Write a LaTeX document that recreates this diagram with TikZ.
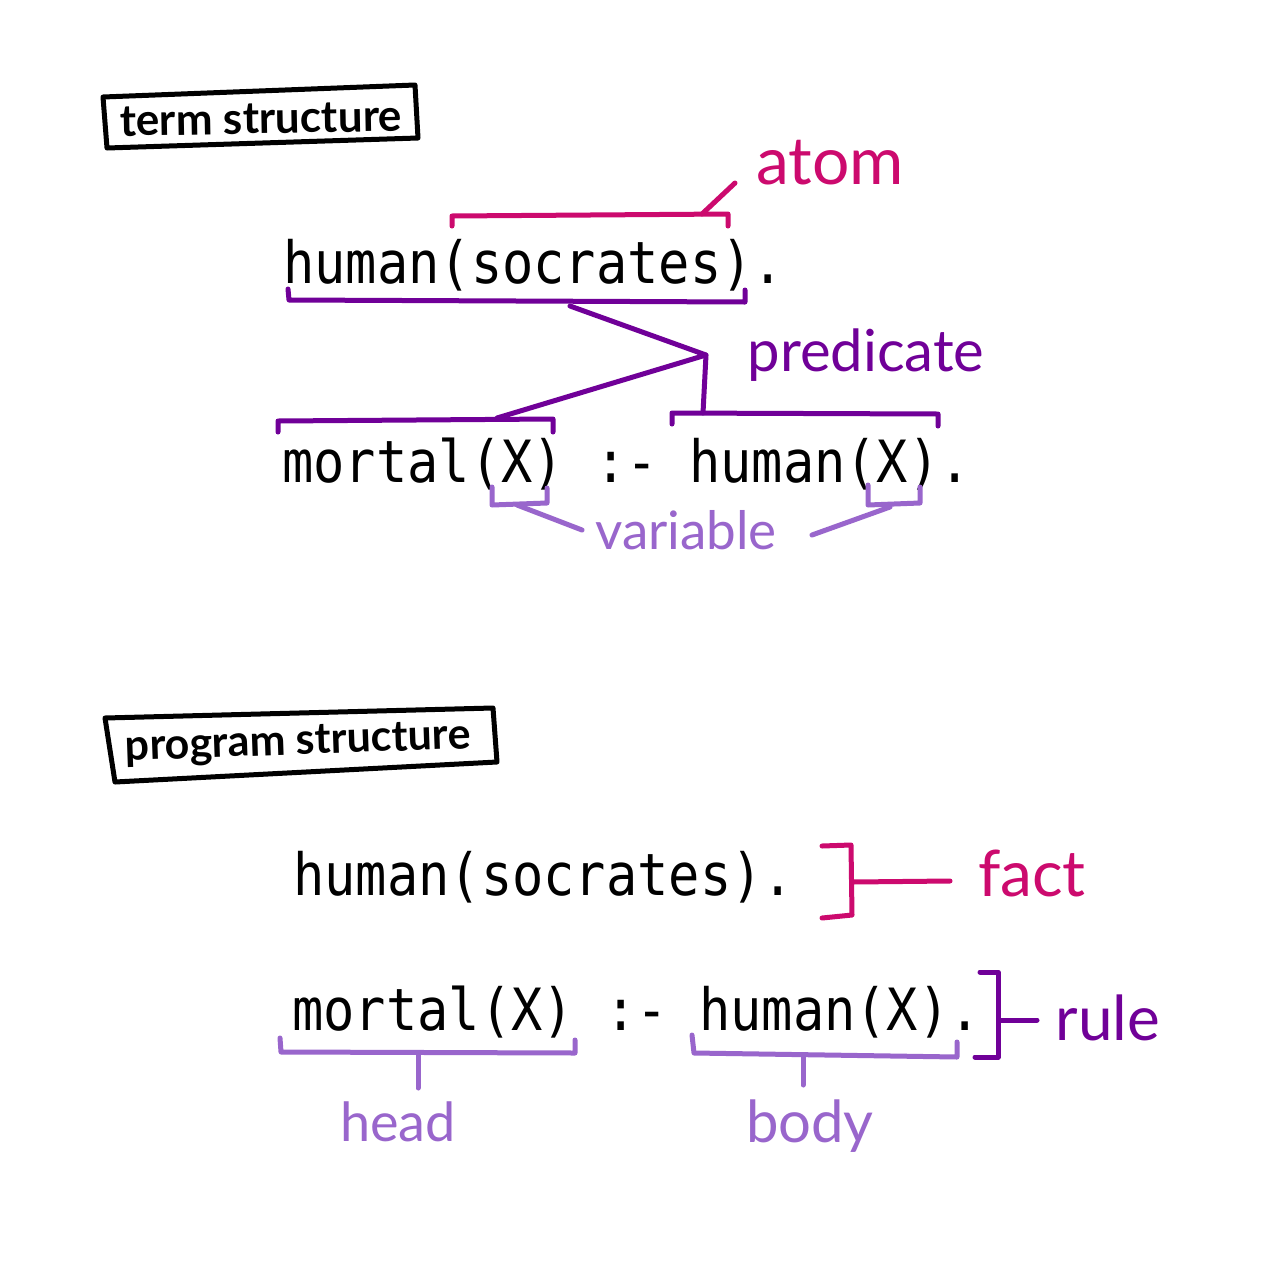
\documentclass[tikz,border=0pt]{standalone}
\usepackage{fontspec}
\newfontfamily\codefont{DejaVu Sans Mono}
\newfontfamily\handfont{Lato}
\definecolor{atomc}{HTML}{CC0A6E}
\definecolor{predc}{HTML}{700098}
\definecolor{varc}{HTML}{9966CC}
\begin{document}
\begin{tikzpicture}[x=1pt,y=-1pt,
  code/.style={font=\codefont\fontsize{52}{60}\selectfont, inner sep=0pt, anchor=base west, yscale=1.12},
  hand/.style={font=\handfont\fontsize{#1}{#1}\selectfont, inner sep=0pt},
  title/.style={font=\handfont\bfseries\fontsize{#1}{#1}\selectfont, inner sep=0pt},
  ink/.style={line width=5pt, line cap=round, line join=round},
  boxline/.style={ink, draw=black},
  atomline/.style={ink, draw=atomc},
  predline/.style={ink, draw=predc},
  varline/.style={ink, draw=varc}
]
\useasboundingbox[fill=white] (0,0) rectangle (1264,1277);

% ---------- term structure ----------
\node[title=44, rotate=1] (termtitle) at (261,119) {term structure};
\draw[boxline] (103,97) -- (415,85) -- (418,138) -- (107,148) -- cycle;

\node[code] (fact1) at (283,283) {human(socrates).};
\node[code] (rule1) at (282,482) {mortal(X) :- human(X).};

% atom bracket above the argument
\draw[atomline] (452,226) -- (452,216) -- (728,214) -- (728,226);
\coordinate (atomtip) at (702,214);
\coordinate (atomend) at (735,183);
\node[hand=66, text=atomc] (atom) at (830,163) {atom};
\draw[atomline] (atomtip) -- (atomend);

% predicate brackets and their links
\draw[predline] (288,289) -- (289,300) -- (745,302) -- (745,290);
\draw[predline] (278,432) -- (278,421) -- (553,419) -- (553,432);
\draw[predline] (672,424) -- (672,413) -- (938,414) -- (938,426);
\coordinate (predsrc) at (570,306);
\coordinate (predjoin) at (706,355);
\coordinate (predhead) at (497,418);
\coordinate (predbody) at (703,413);
\draw[predline] (predsrc) -- (predjoin) -- (predhead);
\draw[predline] (predjoin) -- (predbody);
\node[hand=58, text=predc] (pred) at (866,355) {predicate};

% variable brackets
\draw[varline] (492,487) -- (492,505) -- (547,503) -- (547,488);
\draw[varline] (868,485) -- (868,505) -- (920,503) -- (920,487);
\coordinate (varl) at (517,505);
\coordinate (varr) at (890,507);
\node[hand=53, text=varc] (var) at (686,530) {variable};
\coordinate (varlend) at (582,530);
\coordinate (varrend) at (812,535);
\draw[varline] (varl) -- (varlend);
\draw[varline] (varr) -- (varrend);

% ---------- program structure ----------
\node[title=43, rotate=2] (progtitle) at (298,744) {program structure};
\draw[boxline] (105,718) -- (493,708) -- (497,762) -- (115,782) -- cycle;

\node[code] (fact2) at (293,895) {human(socrates).};
\node[code] (rule2) at (292,1030) {mortal(X) :- human(X).};

% fact
\draw[atomline] (822,846) -- (851,845) -- (852,915) -- (822,918);
\coordinate (factfrom) at (853,882);
\coordinate (factto) at (950,881);
\draw[atomline] (factfrom) -- (factto);
\node[hand=64, text=atomc] (fact) at (1032,873) {fact};

% rule
\draw[predline] (980,972) -- (998,972) -- (998,1057) -- (975,1057);
\coordinate (rulefrom) at (1000,1020);
\coordinate (ruleto) at (1037,1020);
\draw[predline] (rulefrom) -- (ruleto);
\node[hand=62, text=predc] (rule) at (1108,1018) {rule};

% head and body
\draw[varline] (280,1038) -- (281,1052) -- (575,1053) -- (575,1040);
\draw[varline] (692,1035) -- (694,1053) -- (957,1057) -- (957,1042);
\coordinate (headstem) at (418,1053);
\coordinate (bodystem) at (803,1056);
\node[hand=54, text=varc] (head) at (398,1122) {head};
\node[hand=58, text=varc] (body) at (810,1126) {body};
\draw[varline] (headstem) -- (418,1088);
\draw[varline] (bodystem) -- (803,1085);
\end{tikzpicture}
\end{document}
